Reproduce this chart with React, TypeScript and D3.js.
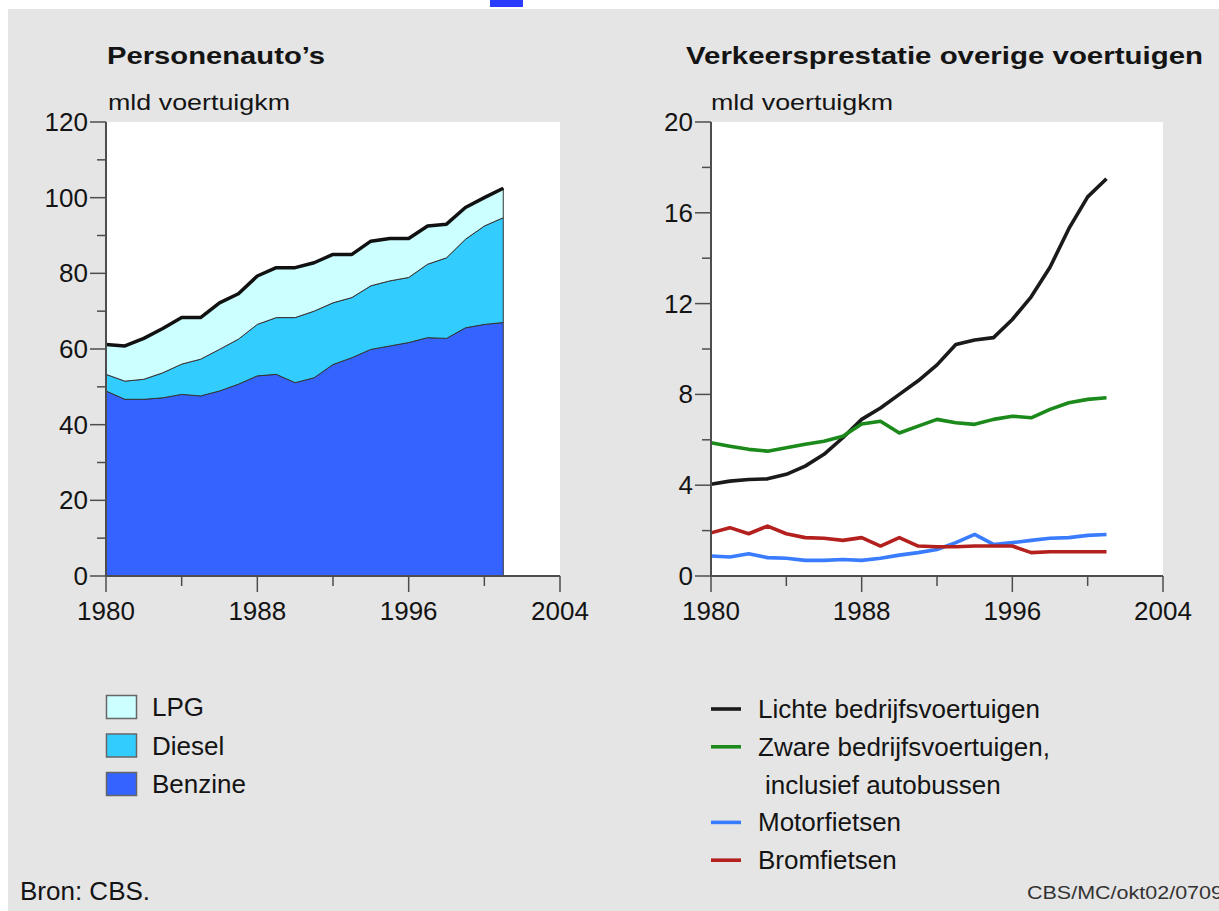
import React from "react";
import * as d3 from "d3";

// jaren
const years = [
  1980, 1981, 1982, 1983, 1984, 1985, 1986, 1987, 1988, 1989, 1990,
  1991, 1992, 1993, 1994, 1995, 1996, 1997, 1998, 1999, 2000, 2001,
];

// Personenauto's, mld voertuigkm (gestapeld)
const benzine = [
  48.9, 46.7, 46.7, 47.1, 48.0, 47.6, 48.9, 50.7, 52.9, 53.3, 51.1,
  52.4, 55.9, 57.7, 59.9, 60.8, 61.7, 63.0, 62.8, 65.6, 66.5, 67.0,
];
const diesel = [
  4.4, 4.8, 5.3, 6.6, 8.0, 9.7, 11.0, 11.9, 13.6, 15.0, 17.2,
  17.6, 16.3, 15.9, 16.8, 17.2, 17.2, 19.4, 21.3, 23.4, 26.0, 27.7,
];
const lpg = [
  7.9, 9.3, 10.8, 11.7, 12.3, 11.0, 12.3, 12.0, 12.8, 13.2, 13.2,
  12.8, 12.8, 11.4, 11.8, 11.2, 10.3, 10.1, 8.9, 8.4, 7.5, 7.8,
];

// overige voertuigen, mld voertuigkm
const lichte = [
  4.04, 4.18, 4.25, 4.28, 4.48, 4.84, 5.36, 6.09, 6.9, 7.4, 8.0,
  8.6, 9.3, 10.2, 10.4, 10.5, 11.3, 12.3, 13.6, 15.3, 16.7, 17.5,
];
const zware = [
  5.87, 5.72, 5.58, 5.5, 5.65, 5.8, 5.94, 6.16, 6.7, 6.82, 6.3,
  6.6, 6.9, 6.75, 6.68, 6.9, 7.04, 6.97, 7.34, 7.63, 7.78, 7.85,
];
const motorfietsen = [
  0.88, 0.84, 0.98, 0.81, 0.78, 0.69, 0.69, 0.73, 0.69, 0.78, 0.92,
  1.03, 1.17, 1.47, 1.83, 1.39, 1.47, 1.57, 1.66, 1.69, 1.79, 1.83,
];
const bromfietsen = [
  1.9, 2.13, 1.86, 2.2, 1.86, 1.69, 1.66, 1.57, 1.69, 1.32, 1.69,
  1.32, 1.29, 1.29, 1.32, 1.32, 1.32, 1.03, 1.07, 1.07, 1.07, 1.07,
];

const xTicks = [1980, 1984, 1988, 1992, 1996, 2000, 2004];
const xLabels = [1980, 1988, 1996, 2004];
const leftYTicks = [0, 10, 20, 30, 40, 50, 60, 70, 80, 90, 100, 110, 120];
const leftYLabels = [0, 20, 40, 60, 80, 100, 120];
const rightYTicks = [0, 2, 4, 6, 8, 10, 12, 14, 16, 18, 20];
const rightYLabels = [0, 4, 8, 12, 16, 20];

const areaKeys = ["benzine", "diesel", "lpg"];
const areaColors = { benzine: "#3463ff", diesel: "#33ccff", lpg: "#ccffff" };
const areaLegend = [
  { key: "lpg", label: "LPG" },
  { key: "diesel", label: "Diesel" },
  { key: "benzine", label: "Benzine" },
];

const lineSeries = [
  { label: "Lichte bedrijfsvoertuigen", values: lichte, color: "#1a1a1a" },
  { label: "Zware bedrijfsvoertuigen,", values: zware, color: "#1b8a1b" },
  { label: "Motorfietsen", values: motorfietsen, color: "#3a7cff" },
  { label: "Bromfietsen", values: bromfietsen, color: "#b3201e" },
];

const FONT = "'Liberation Sans', Arial, Helvetica, sans-serif";
const AXIS = "#4d4d4d";
const INK = "#141414";

const Axes = ({ x, y, yTicks, yLabels }) => {
  const [x0, x1] = x.range();
  const [y0, y1] = y.range();
  return (
    <g>
      {yTicks.map((t) => {
        const major = yLabels.includes(t);
        return (
          <line
            key={"y" + t}
            x1={x0 - (major ? 16 : 9)}
            x2={x0}
            y1={y(t)}
            y2={y(t)}
            stroke={AXIS}
            strokeWidth={1.5}
          />
        );
      })}
      {yLabels.map((t) => (
        <text
          key={"yl" + t}
          x={x0 - 18}
          y={y(t) + 9}
          textAnchor="end"
          fontSize={26}
          fill={INK}
        >
          {t}
        </text>
      ))}
      {xTicks.map((t) => {
        const major = xLabels.includes(t);
        return (
          <line
            key={"x" + t}
            x1={x(t)}
            x2={x(t)}
            y1={y0}
            y2={y0 + (major ? 16 : 10)}
            stroke={AXIS}
            strokeWidth={1.5}
          />
        );
      })}
      {xLabels.map((t) => (
        <text
          key={"xl" + t}
          x={x(t)}
          y={y0 + 44}
          textAnchor="middle"
          fontSize={26}
          fill={INK}
        >
          {t}
        </text>
      ))}
      <line x1={x0} x2={x0} y1={y1} y2={y0} stroke={AXIS} strokeWidth={2} />
      <line x1={x0} x2={x1} y1={y0} y2={y0} stroke={AXIS} strokeWidth={2} />
    </g>
  );
};

export default function App() {
  const width = 1219;
  const height = 911;

  // linker grafiek
  const xL = d3.scaleLinear().domain([1980, 2004]).range([106, 560]);
  const yL = d3.scaleLinear().domain([0, 120]).range([576, 122]);

  const table = years.map((yr, i) => ({
    year: yr,
    benzine: benzine[i],
    diesel: diesel[i],
    lpg: lpg[i],
  }));
  const stacked = d3.stack().keys(areaKeys)(table);

  const area = d3
    .area()
    .x((d) => xL(d.data.year))
    .y0((d) => yL(d[0]))
    .y1((d) => yL(d[1]));
  const topLine = d3
    .line()
    .x((d) => xL(d.data.year))
    .y((d) => yL(d[1]));

  // rechter grafiek
  const xR = d3.scaleLinear().domain([1980, 2004]).range([711, 1163]);
  const yR = d3.scaleLinear().domain([0, 20]).range([576, 122]);
  const line = d3
    .line()
    .x((d, i) => xR(years[i]))
    .y((d) => yR(d));

  return (
    <div style={{ position: "absolute", left: 0, top: 0 }}>
      <svg
        width={width}
        height={height}
        style={{ display: "block", fontFamily: FONT }}
      >
        <rect x={0} y={0} width={width} height={height} fill="#ffffff" />
        <rect x={8} y={9} width={width - 8} height={height - 9} fill="#e5e5e5" />
        {/* afgesneden link bovenaan */}
        <rect x={490} y={0} width={33} height={7} fill="#2a3cff" />

        {/* titels */}
        <text x={107} y={64} fontSize={24} fontWeight="bold" fill={INK}
          textLength={218} lengthAdjust="spacingAndGlyphs">
          Personenauto’s
        </text>
        <text x={686} y={64} fontSize={24} fontWeight="bold" fill={INK}
          textLength={517} lengthAdjust="spacingAndGlyphs">
          Verkeersprestatie overige voertuigen
        </text>
        <text x={108} y={110} fontSize={22} fill={INK}
          textLength={182} lengthAdjust="spacingAndGlyphs">
          mld voertuigkm
        </text>
        <text x={711} y={110} fontSize={22} fill={INK}
          textLength={182} lengthAdjust="spacingAndGlyphs">
          mld voertuigkm
        </text>

        {/* plotvlakken */}
        <rect x={106} y={122} width={454} height={454} fill="#ffffff" />
        <rect x={711} y={122} width={452} height={454} fill="#ffffff" />

        {/* gestapelde vlakken */}
        <g>
          {stacked.map((s) => (
            <path
              key={s.key}
              d={area(s)}
              fill={areaColors[s.key]}
              stroke="#333"
              strokeWidth={1}
              strokeLinejoin="round"
            />
          ))}
          <path
            d={topLine(stacked[stacked.length - 1])}
            fill="none"
            stroke="#111"
            strokeWidth={3.5}
            strokeLinejoin="round"
          />
        </g>
        <Axes x={xL} y={yL} yTicks={leftYTicks} yLabels={leftYLabels} />

        {/* lijnen */}
        <g>
          {lineSeries.map((s) => (
            <path
              key={s.label}
              d={line(s.values)}
              fill="none"
              stroke={s.color}
              strokeWidth={3.6}
              strokeLinejoin="round"
            />
          ))}
        </g>
        <Axes x={xR} y={yR} yTicks={rightYTicks} yLabels={rightYLabels} />

        {/* legenda links */}
        {areaLegend.map((d, i) => (
          <g key={d.key} transform={`translate(106, ${695 + i * 38.5})`}>
            <rect x={0.5} y={0.5} width={30} height={23} fill={areaColors[d.key]}
              stroke="#666" strokeWidth={1.5} />
            <text x={46} y={21} fontSize={26} fill={INK}>
              {d.label}
            </text>
          </g>
        ))}

        {/* legenda rechts */}
        {lineSeries.map((s, i) => {
          const yy = 709 + (i < 2 ? i : i + 1) * 37.8;
          return (
            <g key={s.label} transform={`translate(711, ${yy})`}>
              <line x1={0} x2={30} y1={0} y2={0} stroke={s.color} strokeWidth={3.6} />
              <text x={47} y={9} fontSize={26} fill={INK}>
                {s.label}
              </text>
            </g>
          );
        })}
        <text x={765} y={709 + 2 * 37.8 + 9} fontSize={26} fill={INK}>
          inclusief autobussen
        </text>

        {/* bron */}
        <text x={20} y={900} fontSize={26} fill={INK}>
          Bron: CBS.
        </text>
        <text x={1027} y={899} fontSize={18} fill="#333"
          textLength={196} lengthAdjust="spacingAndGlyphs">
          CBS/MC/okt02/0709
        </text>
      </svg>
    </div>
  );
}
